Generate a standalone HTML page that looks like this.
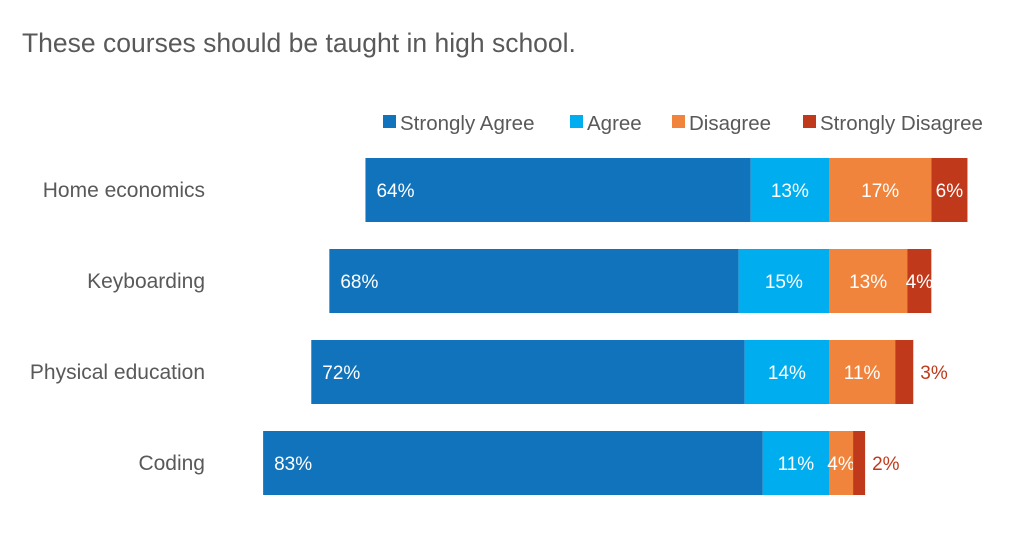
<!DOCTYPE html>
<html><head><meta charset="utf-8"><style>
body{margin:0;background:#fff;}
svg text{font-family:"Liberation Sans Narrow","Liberation Sans",sans-serif;}
</style></head><body>
<svg width="1023" height="540" id="c">
<text x="22" y="52" font-size="26.5" fill="#595959">These courses should be taught in high school.</text>
</svg>
<script>
const categories=["Home economics","Keyboarding","Physical education","Coding"];
const stronglyAgree=[64,68,72,83];
const agree=[13,15,14,11];
const disagree=[17,13,11,4];
const stronglyDisagree=[6,4,3,2];
const seriesNames=["Strongly Agree","Agree","Disagree","Strongly Disagree"];
const colors=["#1173bb","#00aeef","#f0843c","#c0391b"];
const svg=document.getElementById('c');
const NS="http://www.w3.org/2000/svg";
const center=829, pxPer=6.02, top0=158, pitch=91, bh=64;
const x=v=>center+v*pxPer;
function mk(t,a){const e=document.createElementNS(NS,t);for(const k in a)e.setAttribute(k,a[k]);svg.appendChild(e);return e;}
const legX=[383,570,672,803];
seriesNames.forEach((n,i)=>{
 const r=mk('rect',{x:legX[i],y:115,width:13,height:13,fill:colors[i]});
 
 
 const t=mk('text',{x:legX[i]+17,y:130,'font-size':20.5,fill:'#595959'});
 t.textContent=n;
 
 
});
categories.forEach((c,i)=>{
 const y=top0+i*pitch;
 const lab=mk('text',{x:205,y:y+bh/2+7,'font-size':21,fill:'#595959','text-anchor':'end'});
 lab.textContent=c;
 
 
 const segs=[[-(stronglyAgree[i]+agree[i]),-agree[i]],[-agree[i],0],[0,disagree[i]],[disagree[i],disagree[i]+stronglyDisagree[i]]];
 const vals=[stronglyAgree[i],agree[i],disagree[i],stronglyDisagree[i]];
 segs.forEach((s,j)=>{
  const r=mk('rect',{x:x(s[0]),y:y,width:x(s[1])-x(s[0]),height:bh,fill:colors[j]});
  
  
  let tx,anchor='middle',fill='#fff';
  if(j==0){tx=x(s[0])+11;anchor='start';}
  else if(j==3&&vals[j]<4){tx=x(s[1])+7;anchor='start';fill=colors[3];}
  else tx=(x(s[0])+x(s[1]))/2;
  const t=mk('text',{x:tx,y:y+bh/2+7,'font-size':19,fill:fill,'text-anchor':anchor});
  t.textContent=vals[j]+'%';
  
  
 });
});
</script>
</body></html>
